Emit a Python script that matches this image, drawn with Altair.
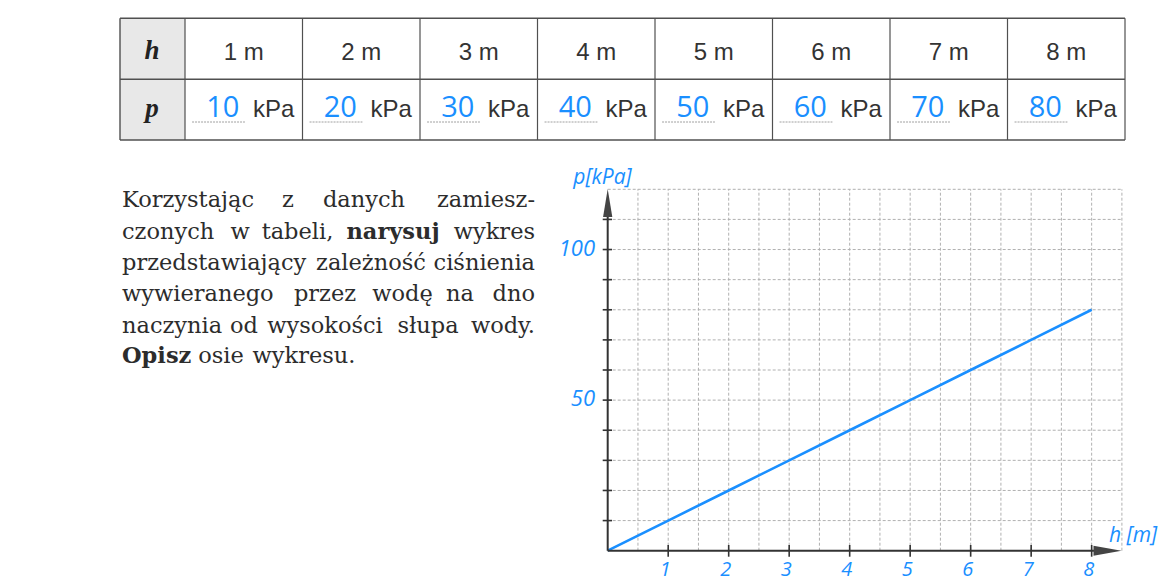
import altair as alt
import pandas as pd

# ---------------- data ----------------
h_m = [1, 2, 3, 4, 5, 6, 7, 8]
p_kpa = [10, 20, 30, 40, 50, 60, 70, 80]
line_h = [0] + h_m
line_p = [0] + p_kpa

grid_x = [0.5, 1, 1.5, 2, 2.5, 3, 3.5, 4, 4.5, 5, 5.5, 6, 6.5, 7, 7.5, 8, 8.5]
grid_y = [10, 20, 30, 40, 50, 60, 70, 80, 90, 100, 110, 120]
x_ticks = [1, 2, 3, 4, 5, 6, 7, 8]
y_ticks = [10, 20, 30, 40, 50, 60, 70, 80, 90, 100, 110]
y_labels = [50, 100]

para_words = ["Korzystając", "z", "danych", "zamiesz-",
              "czonych", "w", "tabeli,", "narysuj", "wykres",
              "przedstawiający", "zależność", "ciśnienia",
              "wywieranego", "przez", "wodę", "na", "dno",
              "naczynia", "od", "wysokości", "słupa", "wody.",
              "Opisz", "osie", "wykresu."]
para_line = [0, 0, 0, 0, 1, 1, 1, 1, 1, 2, 2, 2, 3, 3, 3, 3, 3, 4, 4, 4, 4, 4, 5, 5, 5]
para_bold = ["narysuj", "Opisz"]

# ---------------- layout (page px -> chart px, page margin 8) ----------------
M = 8
BLUE = "#1a8fff"
INK = "#2c2c2c"

X_G = alt.Scale(domain=[0, 8.5], range=[607.7 - M, 1121.9 - M], nice=False, zero=False)
Y_G = alt.Scale(domain=[0, 120], range=[550.7 - M, 189.3 - M], nice=False, zero=False)
X_T = alt.Scale(domain=[0, 8], range=[185 - M, 1125 - M], nice=False, zero=False)

T_TOP, T_MID, T_BOT, T_LEFT = 18.3 - M, 79.3 - M, 140 - M, 120 - M
one = pd.DataFrame({"d": [0]})

# ---------------- table ----------------
tab = pd.DataFrame({"col": list(range(len(h_m))), "h": h_m, "p": p_kpa})
tab["c"] = tab["col"] + 0.5
tab["hl"] = tab["h"].astype(str) + " m"
tab["pl"] = tab["p"].astype(str)
bounds = pd.DataFrame({"b": list(range(len(h_m) + 1))})

shade = alt.Chart(one).mark_rect(fill="#e8e8e8").encode(
    x=alt.value(T_LEFT), x2=alt.value(185 - M), y=alt.value(T_TOP), y2=alt.value(T_BOT))

hlines = alt.Chart(pd.DataFrame({"yy": [T_TOP, T_MID, T_BOT]})).mark_rule(
    color="#505050", strokeWidth=1.4).encode(
    x=alt.value(T_LEFT), x2=alt.value(1125 - M), y=alt.Y("yy:Q", scale=None))
vline_left = alt.Chart(one).mark_rule(color="#505050", strokeWidth=1.4).encode(
    x=alt.value(T_LEFT), y=alt.value(T_TOP), y2=alt.value(T_BOT))
vlines = alt.Chart(bounds).mark_rule(color="#505050", strokeWidth=1.2).encode(
    x=alt.X("b:Q", scale=X_T, axis=None), y=alt.value(T_TOP), y2=alt.value(T_BOT))

hp_head = alt.Chart(pd.DataFrame({"t": ["h", "p"], "yy": [59.3 - M, 116.7 - M]})).mark_text(
    font="Liberation Serif", fontSize=27, fontWeight="bold", fontStyle="italic",
    color="#222", align="center", baseline="alphabetic").encode(
    x=alt.value(152 - M), y=alt.Y("yy:Q", scale=None), text="t:N")

h_text = alt.Chart(tab).mark_text(
    font="Liberation Sans", fontSize=24, color="#333", align="center",
    baseline="alphabetic").encode(
    x=alt.X("c:Q", scale=X_T, axis=None), y=alt.value(59.5 - M), text="hl:N")

p_num = alt.Chart(tab).mark_text(
    font="Open Sans", fontSize=29, color=BLUE, align="center", baseline="alphabetic",
    dx=-21).encode(
    x=alt.X("c:Q", scale=X_T, axis=None), y=alt.value(117 - M), text="pl:N")

p_unit = alt.Chart(tab).mark_text(
    font="Liberation Sans", fontSize=24, color="#333", align="center",
    baseline="alphabetic", dx=30).encode(
    x=alt.X("c:Q", scale=X_T, axis=None), y=alt.value(117 - M), text=alt.value("kPa"))

underline = alt.Chart(tab).transform_calculate(
    u0="datum.col + 0.06", u1="datum.col + 0.51").mark_rule(
    color="#a0a0a0", strokeWidth=1, strokeDash=[2, 1]).encode(
    x=alt.X("u0:Q", scale=X_T, axis=None), x2="u1:Q", y=alt.value(122 - M))

# ---------------- paragraph (justified block: first word left, last right, others centred) ----------------
word_x = [122, 288, 364, 535,
          122, 240, 297.5, 393, 535,
          122, 371, 535,
          122, 325, 402.5, 460, 535,
          122, 244, 325, 428, 535,
          122, 221, 304]
word_align = ["left", "center", "center", "right",
              "left", "center", "center", "center", "right",
              "left", "center", "right",
              "left", "center", "center", "center", "right",
              "left", "center", "center", "center", "right",
              "left", "center", "center"]
line_base = [207, 238.5, 270, 301, 332.5, 363]
para = pd.DataFrame({"t": para_words, "line": para_line, "al": word_align,
                     "px": [v - M for v in word_x]})
para["py"] = [line_base[i] - M for i in para["line"]]
para["bold"] = para["t"].isin(para_bold)

para_layers = []
for al in ["left", "center", "right"]:
    for b in [False, True]:
        sub = para[(para["al"] == al) & (para["bold"] == b)]
        if len(sub) == 0:
            continue
        para_layers.append(
            alt.Chart(sub).mark_text(
                font="DejaVu Serif", fontSize=22.5, color=INK, align=al,
                baseline="alphabetic", fontWeight="bold" if b else "normal").encode(
                x=alt.X("px:Q", scale=None), y=alt.Y("py:Q", scale=None), text="t:N"))

# ---------------- graph ----------------
gxdf = pd.DataFrame({"gx": grid_x, "y0": 0, "y1": 120})
gydf = pd.DataFrame({"gy": grid_y, "x0": 0, "x1": 8.5})

GRID = "#b0b0b0"
vgrid = alt.Chart(gxdf).mark_rule(color=GRID, strokeWidth=1, strokeDash=[3, 2]).encode(
    x=alt.X("gx:Q", scale=X_G, axis=None),
    y=alt.Y("y0:Q", scale=Y_G, axis=None), y2="y1:Q")
hgrid = alt.Chart(gydf).mark_rule(color=GRID, strokeWidth=1, strokeDash=[3, 2]).encode(
    y=alt.Y("gy:Q", scale=Y_G, axis=None),
    x=alt.X("x0:Q", scale=X_G, axis=None), x2="x1:Q")

xaxis = alt.Chart(pd.DataFrame({"a": [0], "b": [8.3], "y": [0]})).mark_rule(
    color="#333", strokeWidth=2).encode(
    x=alt.X("a:Q", scale=X_G, axis=None), x2="b:Q", y=alt.Y("y:Q", scale=Y_G, axis=None))
yaxis = alt.Chart(pd.DataFrame({"a": [0], "b": [116], "x": [0]})).mark_rule(
    color="#333", strokeWidth=2).encode(
    y=alt.Y("a:Q", scale=Y_G, axis=None), y2="b:Q", x=alt.X("x:Q", scale=X_G, axis=None))

xt = alt.Chart(pd.DataFrame({"v": x_ticks})).mark_rule(color="#333", strokeWidth=1.6).encode(
    x=alt.X("v:Q", scale=X_G, axis=None), y=alt.value(545 - M), y2=alt.value(556.7 - M))
yt = alt.Chart(pd.DataFrame({"v": y_ticks})).mark_rule(color="#333", strokeWidth=1.6).encode(
    y=alt.Y("v:Q", scale=Y_G, axis=None), x=alt.value(602.7 - M), x2=alt.value(612 - M))

arrow_up = alt.Chart(pd.DataFrame({"x": [0]})).mark_point(
    shape="M0,-1L0.33,1L-0.33,1Z", filled=True, fill="#444", opacity=1, size=784,
    strokeWidth=0).encode(x=alt.X("x:Q", scale=X_G, axis=None), y=alt.value(203 - M))
arrow_right = alt.Chart(pd.DataFrame({"y": [0]})).mark_point(
    shape="M1,0L-1,-0.36L-1,0.36Z", filled=True, fill="#444", opacity=1, size=784,
    strokeWidth=0).encode(y=alt.Y("y:Q", scale=Y_G, axis=None), x=alt.value(1107.5 - M))

line = alt.Chart(pd.DataFrame({"h": line_h, "p": line_p})).mark_line(
    color=BLUE, strokeWidth=2.6).encode(
    x=alt.X("h:Q", scale=X_G, axis=None), y=alt.Y("p:Q", scale=Y_G, axis=None))

xl = alt.Chart(pd.DataFrame({"v": x_ticks})).mark_text(
    font="Open Sans", fontSize=20, fontStyle="italic", color=BLUE, dx=-3,
    baseline="alphabetic").encode(
    x=alt.X("v:Q", scale=X_G, axis=None), y=alt.value(576 - M), text="v:N")
yl = alt.Chart(pd.DataFrame({"v": y_labels})).mark_text(
    font="Open Sans", fontSize=22, fontStyle="italic", color=BLUE, align="right",
    baseline="middle", dy=-1).encode(
    y=alt.Y("v:Q", scale=Y_G, axis=None), x=alt.value(595 - M), text="v:N")

ytitle = alt.Chart(one).mark_text(
    font="Open Sans", fontSize=21, fontStyle="italic", color=BLUE, align="center",
    baseline="middle", text="p[kPa]").encode(x=alt.value(602.5 - M), y=alt.value(178 - M))
xtitle = alt.Chart(one).mark_text(
    font="Open Sans", fontSize=21, fontStyle="italic", color=BLUE, align="center",
    baseline="middle", text="h [m]").encode(x=alt.value(1133 - M), y=alt.value(536 - M))

layers = [shade, hlines, vline_left, vlines, underline, hp_head, h_text, p_num, p_unit] + \
    para_layers + [vgrid, hgrid, line, xaxis, yaxis, xt, yt, arrow_up, arrow_right,
                   xl, yl, ytitle, xtitle]

chart = alt.layer(*layers).resolve_scale(x="independent", y="independent").properties(
    width=1151, height=573, autosize=alt.AutoSizeParams(type="none"), padding=0,
    background="white"
).configure_view(stroke=None)

chart.save("out.html", embed_options={"renderer": "svg", "actions": False})
